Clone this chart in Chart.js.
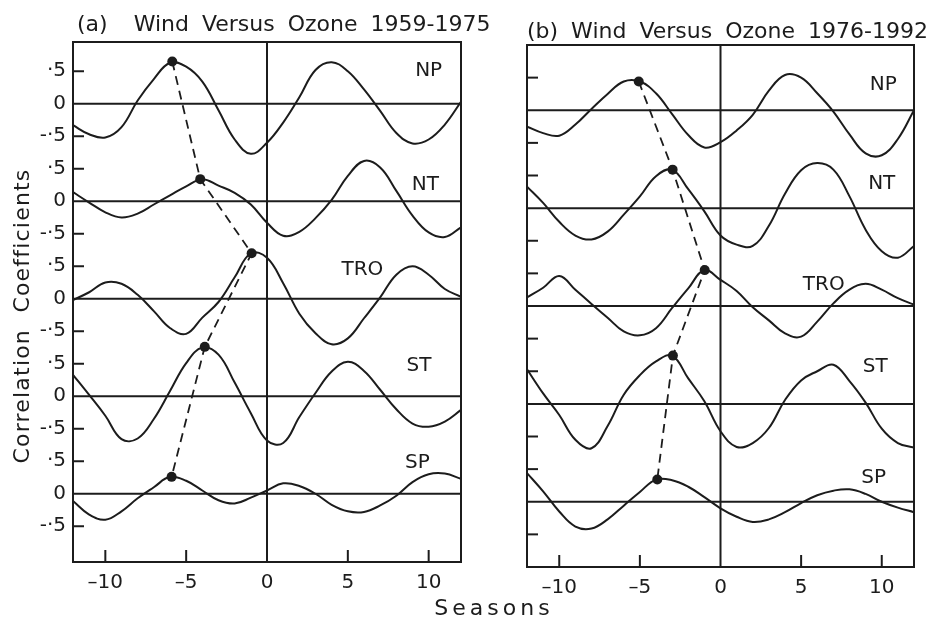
<!DOCTYPE html>
<html>
<head>
<meta charset="utf-8">
<title>Wind versus ozone lag correlations</title>
<script src="https://cdn.jsdelivr.net/npm/chart.js@4.4.1/dist/chart.umd.min.js"></script>
<style>
  html, body { margin: 0; padding: 0; background: #fff; }
  #wrap { position: relative; width: 935px; height: 622px; overflow: hidden;
          font-family: "DejaVu Sans", sans-serif; color: #1c1c1c; }
  canvas { position: absolute; top: 0; }
  #chartA { left: 0; }
  #chartB { left: 470px; }
  .txt { position: absolute; white-space: nowrap; line-height: 1; }
  .ttl { font-size: 22px; word-spacing: 6px; }
  #ytitle { left: -128px; top: 305px; width: 300px; text-align: center; font-size: 22px;
            letter-spacing: 1.2px; transform: rotate(-90deg); }
  #xtitle { left: 394px; top: 597px; width: 200px; text-align: center; font-size: 22px; letter-spacing: 4px; }
</style>
</head>
<body>
<div id="wrap">
  <canvas id="chartA" width="470" height="622"></canvas>
  <canvas id="chartB" width="465" height="622"></canvas>
  <div class="txt ttl" style="left:77px;top:13px">(a)&nbsp; Wind Versus Ozone 1959-1975</div>
  <div class="txt ttl" style="left:527px;top:20px">(b) Wind Versus Ozone 1976-1992</div>
  <div class="txt" id="ytitle">Correlation&nbsp; Coefficients</div>
  <div class="txt" id="xtitle">Seasons</div>
</div>
<script>
/* ---- data ---- */
var SEASONS = [-12, -11, -10, -9, -8, -7, -6, -5, -4, -3, -2, -1, 0, 1, 2, 3, 4, 5, 6, 7, 8, 9, 10, 11, 12];
var REGIONS = ["NP", "NT", "TRO", "ST", "SP"];
// each curve sits on its own zero line, stacked 1.5 units apart
var SHIFT = [6, 4.5, 3, 1.5, 0];

// (a) 1959-1975
var A_NP  = [-0.33, -0.47, -0.52, -0.36, 0.05, 0.38, 0.63, 0.57, 0.34, -0.10, -0.55, -0.77, -0.60, -0.29, 0.10, 0.52, 0.64, 0.50, 0.22, -0.11, -0.45, -0.61, -0.55, -0.32, 0.03];
var A_NT  = [0.14, -0.02, -0.17, -0.25, -0.19, -0.05, 0.09, 0.23, 0.34, 0.24, 0.13, -0.05, -0.33, -0.53, -0.47, -0.26, 0.02, 0.39, 0.62, 0.52, 0.16, -0.22, -0.48, -0.55, -0.40];
var A_TRO = [-0.02, 0.10, 0.25, 0.23, 0.06, -0.19, -0.45, -0.54, -0.29, -0.05, 0.33, 0.70, 0.63, 0.24, -0.23, -0.53, -0.70, -0.61, -0.30, 0.02, 0.37, 0.50, 0.37, 0.15, 0.03];
var A_ST  = [0.33, 0.02, -0.30, -0.66, -0.65, -0.35, 0.08, 0.51, 0.75, 0.64, 0.21, -0.26, -0.68, -0.72, -0.32, 0.05, 0.38, 0.53, 0.39, 0.10, -0.20, -0.42, -0.47, -0.39, -0.21];
var A_SP  = [-0.11, -0.32, -0.40, -0.27, -0.07, 0.10, 0.26, 0.20, 0.05, -0.10, -0.15, -0.06, 0.05, 0.16, 0.12, 0.00, -0.17, -0.27, -0.28, -0.18, -0.03, 0.18, 0.30, 0.31, 0.23];
var A_PEAK_LAG = [-5.86, -4.13, -0.95, -3.85, -5.9];
var A_PEAK_R   = [0.65, 0.34, 0.70, 0.76, 0.26];

// (b) 1976-1992
var B_NP  = [-0.25, -0.35, -0.39, -0.22, 0.02, 0.25, 0.44, 0.44, 0.26, -0.06, -0.38, -0.57, -0.49, -0.31, -0.07, 0.30, 0.54, 0.50, 0.26, -0.02, -0.37, -0.66, -0.69, -0.44, 0.00];
var B_NT  = [0.33, 0.08, -0.21, -0.42, -0.48, -0.36, -0.10, 0.18, 0.49, 0.59, 0.29, -0.05, -0.42, -0.56, -0.58, -0.27, 0.22, 0.58, 0.69, 0.59, 0.18, -0.33, -0.66, -0.76, -0.58];
var B_TRO = [0.13, 0.28, 0.46, 0.25, 0.03, -0.18, -0.39, -0.45, -0.34, -0.03, 0.27, 0.55, 0.40, 0.23, -0.02, -0.22, -0.42, -0.47, -0.24, 0.04, 0.25, 0.34, 0.25, 0.12, 0.02];
var B_ST  = [0.53, 0.16, -0.17, -0.55, -0.68, -0.34, 0.14, 0.44, 0.65, 0.74, 0.39, 0.04, -0.42, -0.66, -0.60, -0.37, 0.06, 0.36, 0.50, 0.60, 0.35, 0.02, -0.38, -0.60, -0.67];
var B_SP  = [0.44, 0.16, -0.15, -0.38, -0.41, -0.27, -0.06, 0.15, 0.34, 0.33, 0.23, 0.07, -0.10, -0.23, -0.31, -0.27, -0.16, -0.02, 0.10, 0.17, 0.19, 0.12, 0.00, -0.09, -0.16];
var B_PEAK_LAG = [-5.07, -2.97, -0.98, -2.95, -3.92];
var B_PEAK_R   = [0.44, 0.59, 0.55, 0.74, 0.34];

var X_TICKS = [-10, -5, 0, 5, 10];
var Y_TICK_REL = [0.5, 0, -0.5];
var Y_TICK_LABELS = ["\u00b75", "0", "-\u00b75"];

/* ---- drawing ---- */
(function () {
  "use strict";

  var INK = "#1c1c1c";
  var FONT = "'DejaVu Sans', sans-serif";

  var yTicks = [];
  SHIFT.forEach(function (s) {
    Y_TICK_REL.forEach(function (r, j) { yTicks.push({ value: s + r, label: Y_TICK_LABELS[j] }); });
  });

  function seg(ctx, x1, y1, x2, y2) {
    ctx.beginPath(); ctx.moveTo(x1, y1); ctx.lineTo(x2, y2); ctx.stroke();
  }

  // frame, zero lines, inward ticks and the region names
  var decor = {
    id: "decor",
    beforeDatasetsDraw: function (chart, args, opts) {
      var ctx = chart.ctx, a = chart.chartArea, x = chart.scales.x, y = chart.scales.y;
      ctx.save();
      ctx.strokeStyle = INK;
      ctx.lineWidth = 2;
      ctx.strokeRect(a.left, a.top, a.right - a.left, a.bottom - a.top);
      SHIFT.forEach(function (s) {
        var py = y.getPixelForValue(s);
        seg(ctx, a.left, py, a.right, py);
        [0.5, -0.5].forEach(function (d) {
          var ty = y.getPixelForValue(s + d);
          seg(ctx, a.left, ty, a.left + 11, ty);
        });
      });
      var x0 = x.getPixelForValue(0);
      seg(ctx, x0, a.top, x0, a.bottom);
      X_TICKS.forEach(function (v) {
        if (v === 0) return;
        var px = x.getPixelForValue(v);
        seg(ctx, px, a.bottom, px, a.bottom - 12);
      });
      ctx.fillStyle = INK;
      ctx.font = "20px " + FONT;
      ctx.textAlign = "center";
      ctx.textBaseline = "middle";
      opts.names.forEach(function (n, i) {
        ctx.fillText(REGIONS[i], x.getPixelForValue(n[0]), y.getPixelForValue(SHIFT[i] + n[1]));
      });
      ctx.restore();
    }
  };

  function datasets(series, lags, peaks) {
    var ds = series.map(function (vals, i) {
      return {
        label: REGIONS[i],
        data: SEASONS.map(function (s, k) { return { x: s, y: SHIFT[i] + vals[k] }; }),
        borderColor: INK,
        borderWidth: 2,
        pointRadius: 0,
        tension: 0.4,
        fill: false
      };
    });
    ds.push({
      label: "peak",
      data: lags.map(function (l, i) { return { x: l, y: SHIFT[i] + peaks[i] }; }),
      borderColor: INK,
      borderWidth: 1.8,
      borderDash: [9, 6],
      pointRadius: 5,
      pointBackgroundColor: INK,
      pointBorderWidth: 0,
      tension: 0,
      fill: false
    });
    return ds;
  }

  function makeChart(id, cfg) {
    return new Chart(document.getElementById(id).getContext("2d"), {
      type: "line",
      data: { datasets: datasets(cfg.series, cfg.lags, cfg.peaks) },
      options: {
        responsive: false,
        animation: false,
        events: [],
        layout: { padding: { top: cfg.top, right: cfg.right, left: 0, bottom: 0 } },
        plugins: {
          legend: { display: false },
          tooltip: { enabled: false },
          decor: { names: cfg.names }
        },
        scales: {
          x: {
            type: "linear", min: -12, max: 12,
            grid: { display: false, drawTicks: false },
            border: { display: false },
            afterBuildTicks: function (sc) { sc.ticks = X_TICKS.map(function (v) { return { value: v }; }); },
            afterFit: function (sc) { sc.height = cfg.xh; },
            ticks: {
              autoSkip: false, maxRotation: 0, padding: 9, color: INK,
              font: { family: FONT, size: 20 },
              callback: function (v) { return v < 0 ? "\u2013" + Math.abs(v) : String(v); }
            }
          },
          y: {
            type: "linear", min: cfg.ymin, max: cfg.ymax,
            grid: { display: false, drawTicks: false },
            border: { display: false },
            afterBuildTicks: function (sc) { sc.ticks = yTicks.map(function (t) { return { value: t.value }; }); },
            afterFit: function (sc) { sc.width = cfg.yw; },
            ticks: {
              display: cfg.yLabels, autoSkip: false, padding: 7, color: INK,
              font: { family: FONT, size: 20 },
              callback: function (v, i) { return yTicks[i].label; }
            }
          }
        }
      },
      plugins: [decor]
    });
  }

  makeChart("chartA", {
    series: [A_NP, A_NT, A_TRO, A_ST, A_SP],
    lags: A_PEAK_LAG, peaks: A_PEAK_R,
    names: [[10.0, 0.5], [9.8, 0.25], [5.9, 0.44], [9.4, 0.47], [9.3, 0.47]],
    top: 42, right: 9, yw: 73, xh: 60, ymin: -1.05, ymax: 6.95, yLabels: true
  });
  makeChart("chartB", {
    series: [B_NP, B_NT, B_TRO, B_ST, B_SP],
    lags: B_PEAK_LAG, peaks: B_PEAK_R,
    names: [[10.1, 0.39], [10.0, 0.37], [6.4, 0.32], [9.6, 0.57], [9.5, 0.36]],
    top: 45, right: 21, yw: 57, xh: 55, ymin: -1.0, ymax: 7.0, yLabels: false
  });
})();
</script>
</body>
</html>
